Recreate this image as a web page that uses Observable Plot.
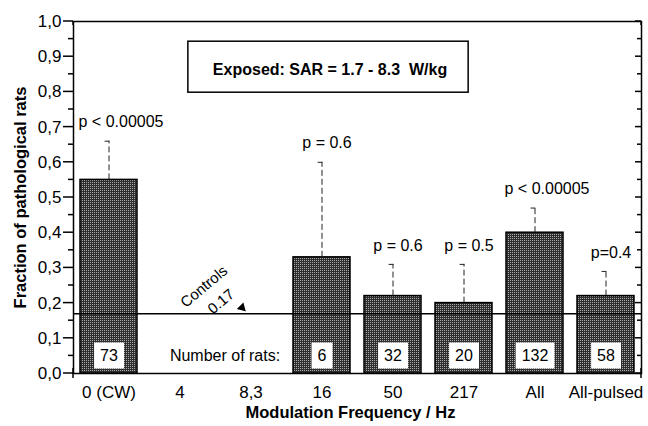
<!DOCTYPE html>
<html><head><meta charset="utf-8">
<script src="https://cdn.jsdelivr.net/npm/d3@7"></script>
<script src="https://cdn.jsdelivr.net/npm/@observablehq/plot@0.6"></script>
<style>
html,body{margin:0;padding:0;background:#fff;overflow:hidden}
svg{font-family:"Liberation Sans", Arial, sans-serif}
</style>
</head><body><div id="chart"></div>
<script>
// ---- data ----
const categories = ["0 (CW)", "4", "8,3", "16", "50", "217", "All", "All-pulsed"];
const fractions  = [0.55, null, null, 0.33, 0.22, 0.20, 0.40, 0.22];
const errorTops  = [0.66, null, null, 0.60, 0.31, 0.31, 0.47, 0.29];
const pLabels    = ["p < 0.00005", null, null, "p = 0.6", "p = 0.6", "p = 0.5", "p < 0.00005", "p=0.4"];
const ratCounts  = [73, null, null, 6, 32, 20, 132, 58];
const controlsLevel = 0.17;
const controlsLabel = "Controls";
const controlsValueLabel = "0.17";
const countsLabel = "Number of rats:";
const yTicks = [0, 0.1, 0.2, 0.3, 0.4, 0.5, 0.6, 0.7, 0.8, 0.9, 1.0];
const yMinorTicks = [0.05, 0.15, 0.25, 0.35, 0.45, 0.55, 0.65, 0.75, 0.85, 0.95];
const titleText = "Exposed: SAR = 1.7 - 8.3  W/kg";
const xLabel = "Modulation Frequency / Hz";
const yLabel = "Fraction of pathological rats";

const rows = categories.map((c, i) => ({cat: c, frac: fractions[i], err: errorTops[i], p: pLabels[i], n: ratCounts[i]}));
const bars = rows.filter(d => d.frac != null);

const capShape = {draw(ctx, l) { ctx.moveTo(0, 0); ctx.lineTo(0, -l); }};

// frame ticks: left (outward), right (inward), top (inward), bottom boundaries (crossing)
function frameTicks(index, scales, values, dim) {
  const x = scales.x, y = scales.y, bw = x.bandwidth;
  const left = dim.marginLeft, right = dim.width - dim.marginRight;
  const top = dim.marginTop, bottom = dim.height - dim.marginBottom;
  const centers = categories.map(c => x(c) + bw / 2);
  const bounds = [left];
  for (let i = 0; i < centers.length - 1; i++) bounds.push((centers[i] + centers[i + 1]) / 2);
  bounds.push(right);
  const g = d3.create("svg:g").attr("stroke", "black").attr("stroke-width", 1.5).attr("fill", "none");
  const line = (x1, y1, x2, y2) => g.append("line").attr("x1", x1).attr("y1", y1).attr("x2", x2).attr("y2", y2);
  for (const v of yTicks) { line(left, y(v), left - 10, y(v)); line(right, y(v), right - 6, y(v)); }
  for (const v of yMinorTicks) { line(left, y(v), left - 5, y(v)); line(right, y(v), right - 4, y(v)); }
  for (const c of centers) line(c, top, c, top + 7);
  for (const b of bounds) { line(b, bottom - 5, b, bottom + 5); line(b, top, b, top + 4); }
  return g.node();
}

const isLong = d => d.p.length > 8;

const chart = Plot.plot({
  width: 648, height: 426,
  marginLeft: 73, marginRight: 7, marginTop: 21, marginBottom: 53,
  style: {fontFamily: "Liberation Sans, Arial, sans-serif", background: "white"},
  x: {domain: categories, paddingInner: 0.2, paddingOuter: 0.1, axis: null},
  y: {domain: [0, 1], axis: null},
  marks: [
    Plot.barY(bars, {x: "cat", y: "frac", fill: "#2e2e2e"}),
    Plot.barY(bars, {x: "cat", y: "frac", fill: "url(#dots)", stroke: "black", strokeWidth: 1.5}),
    // counts
    Plot.text(bars, {x: "cat", y: () => 0.05, text: d => String(d.n), fontSize: 16, fill: "black"}),
    Plot.text([countsLabel], {x: () => categories[1], y: () => 0.05, text: d => d, dx: 45, fontSize: 16}),
    // error bars
    Plot.ruleX(bars, {x: "cat", y1: "frac", y2: "err", stroke: "#222", strokeWidth: 1, strokeDasharray: "6,3"}),
    Plot.vector(bars, {x: "cat", y: "err", length: 4, rotate: -90, anchor: "start", shape: capShape, stroke: "#222", strokeWidth: 1}),
    Plot.text(bars, {filter: isLong, x: "cat", y: "err", text: "p", dx: 12, dy: -19, fontSize: 16}),
    Plot.text(bars, {filter: d => !isLong(d), x: "cat", y: "err", text: "p", dx: 5, dy: -19, fontSize: 16}),
    // controls
    Plot.ruleY([controlsLevel], {stroke: "black", strokeWidth: 1.5}),
    Plot.text([controlsLabel], {x: () => categories[1], y: () => controlsLevel, text: d => d, rotate: -40, dx: 24, dy: -27, fontSize: 15}),
    Plot.text([controlsValueLabel], {x: () => categories[1], y: () => controlsLevel, text: d => d, rotate: -40, dx: 41, dy: -12, fontSize: 15}),
    Plot.dot([controlsLevel], {x: () => categories[2], y: d => d, dx: -9, dy: -6, symbol: "triangle2", r: 3.2, rotate: 135, fill: "black", stroke: "black"}),
    // title
    Plot.text([titleText], {x: () => categories[3], y: () => 0.862, text: d => d, dx: 8, fontSize: 16, fontWeight: "bold"}),
    // axes
    Plot.frame({stroke: "black", strokeWidth: 1.5}),
    Plot.axisY({ticks: yTicks, tickSize: 0, tickPadding: 12, fontSize: 17, label: null,
      tickFormat: d => d.toFixed(1).replace(".", ",")}),
    Plot.axisX({tickSize: 0, tickPadding: 12, fontSize: 17, label: null}),
    frameTicks,
    Plot.text([xLabel], {frameAnchor: "bottom", dx: -7, dy: 39, text: d => d, fontSize: 16.5, fontWeight: "bold", lineAnchor: "middle", textAnchor: "middle"}),
    Plot.text([yLabel], {frameAnchor: "left", dx: -53, rotate: -90, text: d => d, fontSize: 16.5, fontWeight: "bold", lineAnchor: "middle", textAnchor: "middle"})
  ]
});

document.getElementById("chart").append(chart);

const svg = d3.select(chart);
// fine light-dot texture for the bars
const defs = svg.insert("defs", ":first-child");
const pat = defs.append("pattern").attr("id", "dots").attr("x", 0).attr("y", 0)
  .attr("width", 2).attr("height", 2).attr("patternUnits", "userSpaceOnUse");
pat.append("path").attr("d", "M0,0h1v1h-1z").attr("fill", "#ffffff").attr("fill-opacity", 0.6);

const countSet = new Set(bars.map(d => String(d.n)));
svg.selectAll("text").each(function() {
  const t = this.textContent;
  const tr = this.getAttribute("transform");
  if (t === titleText) {
    const bb = this.getBBox();
    d3.select(this.parentNode).insert("rect", () => this)
      .attr("transform", tr)
      .attr("x", bb.x - 25).attr("y", bb.y + bb.height / 2 - 28.5)
      .attr("width", bb.width + 46).attr("height", 51).attr("fill", "white")
      .attr("stroke", "black").attr("stroke-width", 1.5);
  } else if (countSet.has(t) && this.parentNode.getAttribute("aria-label") === "text") {
    const bb = this.getBBox();
    d3.select(this.parentNode).insert("rect", () => this)
      .attr("transform", tr)
      .attr("x", bb.x - 6).attr("y", bb.y + bb.height / 2 - 13)
      .attr("width", bb.width + 12).attr("height", 26).attr("fill", "white");
  }
});
// hide any stray element lying wholly at the far left edge
svg.selectAll("line,path,rect,text").each(function() {
  const r = this.getBoundingClientRect();
  if (r.width + r.height > 0 && r.right < 10) this.style.display = "none";
});
</script>
</body></html>
